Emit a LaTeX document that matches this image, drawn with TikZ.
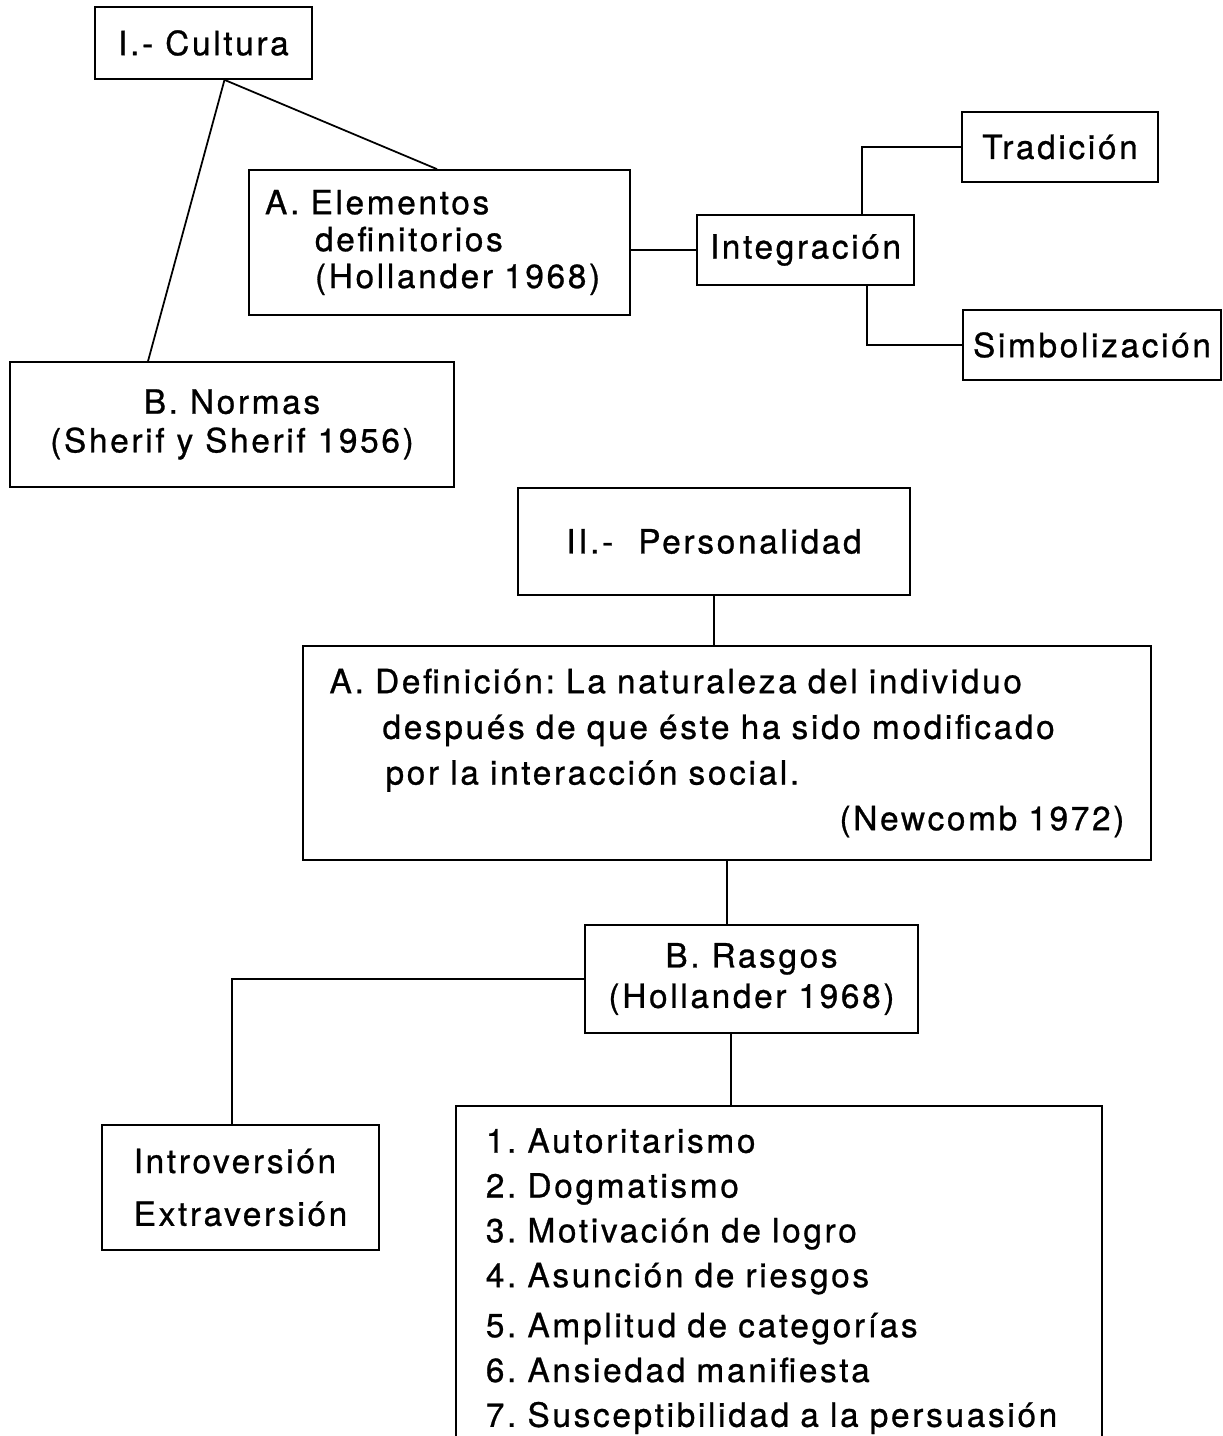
\documentclass[tikz,border=0pt]{standalone}
\usepackage{fontspec}
\setmainfont{TeX Gyre Heros}[LetterSpace=8,FakeBold=0.8]
\usetikzlibrary{calc}
\frenchspacing

\begin{document}
\begin{tikzpicture}[x=0.02cm,y=-0.02cm,line width=1pt,
  box/.style={draw,inner sep=0pt,font=\fontsize{19}{22}\selectfont}]

  \useasboundingbox (0,0) rectangle (1223,1436);
  \clip (0,0) rectangle (1223,1436);

  \node[box,minimum width=4.34cm,minimum height=1.44cm] (cultura) at (203.5,43) {I.- Cultura};
  \node[box,minimum width=7.62cm,minimum height=2.9cm,align=left,text width=6.98cm,
    font=\fontsize{19}{21}\selectfont] (elementos) at (439.5,242.5)
    {A. Elementos\\\hspace*{1cm}definitorios\\\hspace*{1cm}(Hollander 1968)};
  \node[box,minimum width=4.34cm,minimum height=1.4cm] (integracion) at (805.5,250) {Integración};
  \node[box,minimum width=3.92cm,minimum height=1.4cm] (tradicion) at (1060,147) {Tradición};
  \node[box,minimum width=5.16cm,minimum height=1.4cm] (simbolizacion) at (1092,345) {Simbolización};
  \node[box,minimum width=8.88cm,minimum height=2.5cm,align=center] (normas) at (232,424.5)
    {B. Normas\\(Sherif y Sherif 1956)};

  \node[box,minimum width=7.84cm,minimum height=2.14cm] (personalidad) at (714,541.5)
    {II.-\hspace{0.5cm}Personalidad};
  \node[box,minimum width=16.96cm,minimum height=4.28cm,align=left,text width=15.9cm,
    font=\fontsize{19}{26}\selectfont] (definicion) at (727,753)
    {A. Definición: La naturaleza del individuo\\
     \hspace*{1.06cm}después de que éste ha sido modificado\\
     \hspace*{1.12cm}por la interacción social.\\
     \hspace*{\fill}(Newcomb 1972)\hspace*{0.2cm}};
  \node[box,minimum width=6.66cm,minimum height=2.16cm,align=center,
    font=\fontsize{19}{23}\selectfont] (rasgos) at (751.5,979)
    {B. Rasgos\\(Hollander 1968)};
  \node[box,minimum width=5.54cm,minimum height=2.5cm,align=left,
    font=\fontsize{19}{30}\selectfont] (intro) at (240.5,1187.5)
    {Introversión\\Extraversión};
  \node[box,anchor=north west,text width=11.72cm,align=left,inner xsep=0.6cm,
    inner ysep=0.45cm,font=\fontsize{19}{25.5}\selectfont] (lista) at (455,1105)
    {1. Autoritarismo\\
     2. Dogmatismo\\
     3. Motivación de logro\\
     4. Asunción de riesgos\\[3pt]
     5. Amplitud de categorías\\
     6. Ansiedad manifiesta\\
     7. Susceptibilidad a la persuasión};

  \draw ([xshift=0.42cm]cultura.south) -- ([xshift=-1.68cm]normas.north);
  \draw ([xshift=0.42cm]cultura.south) -- ([xshift=-0.05cm]elementos.north);
  \draw (integracion.west) -- (integracion.west -| elementos.east);
  \draw ([xshift=1.13cm]integracion.north) |- (tradicion.west);
  \draw ([xshift=1.23cm]integracion.south) |- (simbolizacion.west);
  \draw (personalidad.south) -- (personalidad.south |- definicion.north);
  \draw (definicion.south) -- (definicion.south |- rasgos.north);
  \draw (rasgos.west) -| ([xshift=-0.17cm]intro.north);
  \draw ([xshift=-0.41cm]rasgos.south) -- ([xshift=-0.41cm]rasgos.south |- lista.north);

\end{tikzpicture}
\end{document}
